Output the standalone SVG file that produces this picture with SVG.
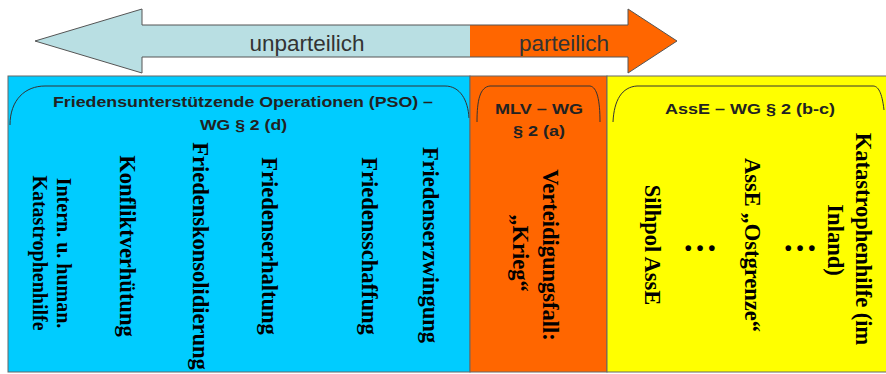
<svg xmlns="http://www.w3.org/2000/svg" width="886" height="374" viewBox="0 0 886 374">
<style>
.panel{stroke:#666;stroke-width:1}
.tab{fill:none;stroke:#333;stroke-width:1}
.title{font-family:"Liberation Sans",Arial,sans-serif;font-weight:bold;font-size:15px;fill:#222;text-anchor:middle}
.vt{font-family:"Liberation Serif","Times New Roman",serif;font-weight:bold;font-size:22.5px;fill:#000;text-anchor:middle}
.dots{font-family:"Liberation Serif","Times New Roman",serif;font-weight:bold;font-size:35px;fill:#000;text-anchor:middle}
.arr{font-family:"Liberation Sans",Arial,sans-serif;font-size:22.5px;fill:#333;text-anchor:middle}
</style>
<rect width="886" height="374" fill="#fff"/>
<g id="arrow">
<polygon points="35,41 142,9 142,25 470,25 470,57 142,57 142,73" fill="#b9dfe3"/>
<polygon points="470,25 628,25 628,9 677,41 628,73 628,57 470,57" fill="#ff6600"/>
<polygon points="35,41 142,9 142,25 628,25 628,9 677,41 628,73 628,57 142,57 142,73" fill="none" stroke="#555" stroke-width="1"/>
<text class="arr" x="307" y="51">unparteilich</text>
<text class="arr" x="564" y="51">parteilich</text>
</g>
<g id="pso">
<rect class="panel" x="8" y="76" width="462" height="296" fill="#00ccff"/>
<path class="tab" d="M10 125 C10 100 25 86 45 86 L445 86 C460 86 468 100 469 118"/>
<text class="title" x="243" y="107" textLength="380" lengthAdjust="spacingAndGlyphs">Friedensunterstützende Operationen (PSO) –</text>
<text class="title" x="243.5" y="130" textLength="87" lengthAdjust="spacingAndGlyphs">WG § 2 (d)</text>
<text class="vt" style="font-size:20px" transform="translate(57,253) rotate(90)"><tspan x="0" y="0">Intern. u. human.</tspan><tspan x="0" y="24">Katastrophenhilfe</tspan></text>
<text class="vt" transform="translate(120,246) rotate(90)">Konfliktverhütung</text>
<text class="vt" transform="translate(193,256) rotate(90)">Friedenskonsolidierung</text>
<text class="vt" transform="translate(262,246) rotate(90)">Friedenserhaltung</text>
<text class="vt" transform="translate(362,246) rotate(90)">Friedensschaffung</text>
<text class="vt" transform="translate(423,245) rotate(90)">Friedenserzwingung</text>
</g>
<g id="mlv">
<rect class="panel" x="470" y="76" width="137" height="296" fill="#ff6600"/>
<path class="tab" d="M477 122 C477 100 480 87 490 86 L590 86 C597 87 600 100 600 122"/>
<text class="title" x="539" y="114" textLength="88" lengthAdjust="spacingAndGlyphs">MLV – WG</text>
<text class="title" x="539" y="136" textLength="52" lengthAdjust="spacingAndGlyphs">§ 2 (a)</text>
<text class="vt" transform="translate(543,255) rotate(90)">Verteidigungsfall:</text>
<text class="vt" transform="translate(513,253) rotate(90)">„Krieg“</text>
</g>
<g id="asse">
<rect class="panel" x="607" y="76" width="285" height="296" fill="#ffff00"/>
<path class="tab" d="M613 122 C614 100 622 87 637 86 L873 86 C878 86 882 92 884 110"/>
<text class="title" x="750" y="114" textLength="170" lengthAdjust="spacingAndGlyphs">AssE – WG § 2 (b-c)</text>
<text class="vt" transform="translate(645,245) rotate(90)">Silhpol AssE</text>
<text class="dots" x="700" y="251">…</text>
<text class="vt" transform="translate(745,245) rotate(90)">AssE „Ostgrenze“</text>
<text class="dots" x="800" y="251">…</text>
<text class="vt" transform="translate(856,239) rotate(90)">Katastrophenhilfe (im</text>
<text class="vt" transform="translate(828,240) rotate(90)">Inland)</text>
</g>
<g id="connectors"></g>
</svg>
